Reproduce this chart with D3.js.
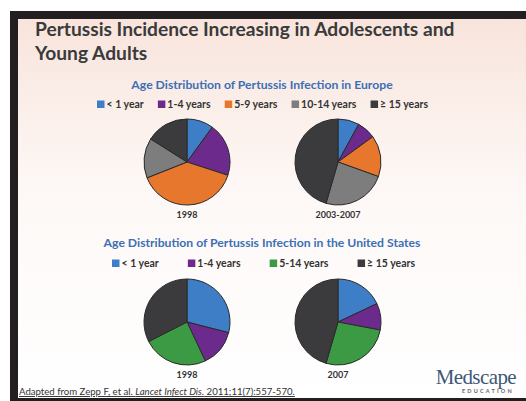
<!DOCTYPE html>
<html>
<head>
<meta charset="utf-8">
<script src="https://cdn.jsdelivr.net/npm/d3@7"></script>
<style>
  body { margin: 0; background: #fff; }
  svg { display: block; }
  text { font-family: Lato, "Open Sans", sans-serif; }
  text.logo { font-family: "Liberation Serif", "DejaVu Serif", serif; }
</style>
</head>
<body>
<div id="chart"></div>
<script>
// data (percent of cases)
var euCategories = ["< 1 year", "1-4 years", "5-9 years", "10-14 years", "\u2265 15 years"];
var eu1998 = [10, 20, 39, 15, 16];
var eu2003 = [8, 7, 15.5, 24, 45.5];
var euYears = ["1998", "2003-2007"];

var usCategories = ["< 1 year", "1-4 years", "5-14 years", "\u2265 15 years"];
var us1998 = [29, 14, 24.5, 32.5];
var us2007 = [18, 10, 26.5, 45.5];
var usYears = ["1998", "2007"];

var euColors = ["#3d7ec6", "#6b2a8c", "#e8772e", "#7d7d7d", "#3b3a3c"];
var usColors = ["#3d7ec6", "#6b2a8c", "#3b9a43", "#3b3a3c"];

var svgWidth = 526;
var svgHeight = 401;

var svg = d3.select("#chart")
  .append("svg")
  .attr("width", svgWidth)
  .attr("height", svgHeight);

// slide background
var defs = svg.append("defs");
var grad = defs.append("linearGradient")
  .attr("id", "bg")
  .attr("x1", 0).attr("y1", 0).attr("x2", 0).attr("y2", 1);
grad.append("stop").attr("offset", "0%").attr("stop-color", "#f8e4dc");
grad.append("stop").attr("offset", "45%").attr("stop-color", "#fdf8f6");
grad.append("stop").attr("offset", "100%").attr("stop-color", "#ffffff");

svg.append("rect").attr("x", 0).attr("y", 0).attr("width", svgWidth).attr("height", svgHeight).attr("fill", "#fff");
svg.append("rect").attr("x", 18).attr("y", 19).attr("width", svgWidth - 18).attr("height", 378).attr("fill", "url(#bg)");
// black frame
svg.append("rect").attr("x", 10).attr("y", 11).attr("width", svgWidth - 10).attr("height", 8).attr("fill", "#231f20");
svg.append("rect").attr("x", 10).attr("y", 11).attr("width", 8).attr("height", svgHeight - 11).attr("fill", "#231f20");
svg.append("rect").attr("x", 10).attr("y", 398).attr("width", svgWidth - 10).attr("height", 3).attr("fill", "#231f20");

// title
var title = svg.append("text")
  .attr("x", 35)
  .attr("font-size", "19.2px")
  .attr("font-weight", "bold")
  .attr("fill", "#3a3a3a");
title.append("tspan").attr("x", 35).attr("y", 36).text("Pertussis Incidence Increasing in Adolescents and");
title.append("tspan").attr("x", 35).attr("y", 60).text("Young Adults");

var pie = d3.pie().sort(null).value(d => d);
var arc = d3.arc().innerRadius(0).outerRadius(43);

function drawPanel(opts) {
  var g = svg.append("g");

  g.append("text")
    .attr("x", opts.cx)
    .attr("y", opts.titleY)
    .attr("text-anchor", "middle")
    .attr("font-size", "12.2px")
    .attr("font-weight", "bold")
    .attr("fill", "#3c6fb4")
    .text(opts.title);

  // legend, spread across the given span
  var legend = g.append("g");
  var items = legend.selectAll("g")
    .data(opts.categories)
    .enter()
    .append("g");
  items.append("rect")
    .attr("y", opts.legendY - 7.5)
    .attr("width", 7.5)
    .attr("height", 7.5)
    .attr("fill", (d, i) => opts.colors[i]);
  items.append("text")
    .attr("x", 9.5)
    .attr("y", opts.legendY)
    .attr("font-size", "10.5px")
    .attr("font-weight", "bold")
    .attr("fill", "#333")
    .text(d => d);
  var widths = [];
  items.each(function() { widths.push(9.5 + d3.select(this).select("text").node().getComputedTextLength()); });
  var total = d3.sum(widths);
  var gap = (opts.legendX1 - opts.legendX0 - total) / (widths.length - 1);
  var xpos = opts.legendX0;
  items.attr("transform", function(d, i) {
    var t = `translate(${xpos},0)`;
    xpos += widths[i] + gap;
    return t;
  });

  // pies
  opts.series.forEach(function(values, k) {
    var pg = g.append("g")
      .attr("transform", `translate(${opts.pieX[k]}, ${opts.pieY})`);
    pg.selectAll("path")
      .data(pie(values))
      .enter()
      .append("path")
      .attr("d", arc)
      .attr("fill", (d, i) => opts.colors[i])
      .attr("stroke", "#2a2a2a")
      .attr("stroke-width", 1);
    g.append("text")
      .attr("x", opts.pieX[k])
      .attr("y", opts.yearY)
      .attr("text-anchor", "middle")
      .attr("font-size", "9px")
      .attr("font-weight", "bold")
      .attr("fill", "#333")
      .text(opts.years[k]);
  });
}

drawPanel({
  title: "Age Distribution of Pertussis Infection in Europe",
  cx: 262, titleY: 89,
  categories: euCategories, colors: euColors,
  legendY: 108, legendX0: 97, legendX1: 428,
  series: [eu1998, eu2003], years: euYears,
  pieX: [187, 338], pieY: 162, yearY: 218
});

drawPanel({
  title: "Age Distribution of Pertussis Infection in the United States",
  cx: 262, titleY: 247,
  categories: usCategories, colors: usColors,
  legendY: 267, legendX0: 112, legendX1: 415,
  series: [us1998, us2007], years: usYears,
  pieX: [187, 338], pieY: 322, yearY: 378
});

// footer
var foot = svg.append("text")
  .attr("x", 19)
  .attr("y", 395)
  .attr("font-size", "9.6px")
  .attr("fill", "#333")
  .attr("text-decoration", "underline");
foot.append("tspan").text("Adapted from  Zepp F, et al. ");
foot.append("tspan").attr("font-style", "italic").text("Lancet Infect Dis.");
foot.append("tspan").text(" 2011;11(7):557-570.");

// logo
svg.append("text")
  .attr("class", "logo")
  .attr("x", 516)
  .attr("y", 384)
  .attr("text-anchor", "end")
  .attr("font-size", "21px")
  .attr("fill", "#3d5878")
  .attr("letter-spacing", "-0.6px")
  .text("Medscape");
svg.append("text")
  .attr("x", 462)
  .attr("y", 393)
  .attr("font-size", "5.5px")
  .attr("font-weight", "bold")
  .attr("fill", "#666")
  .attr("letter-spacing", "2.2px")
  .text("EDUCATION");
</script>
</body>
</html>
